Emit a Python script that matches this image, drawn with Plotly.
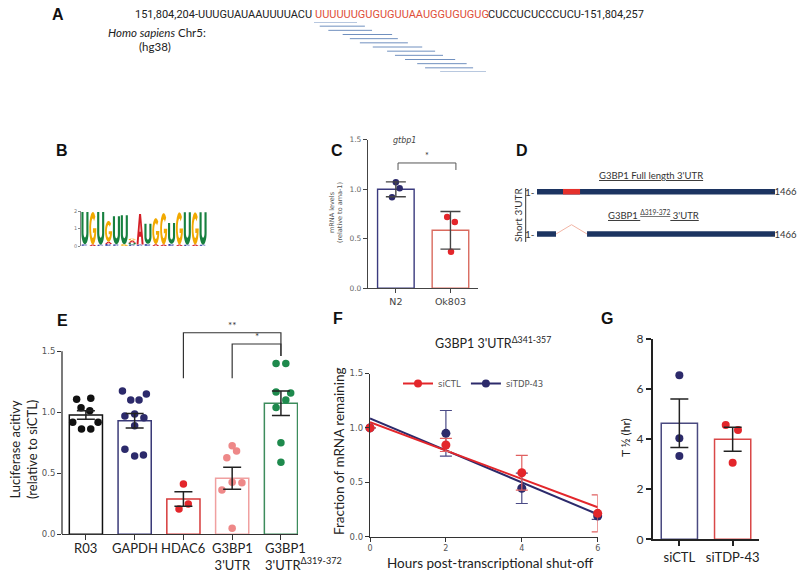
import numpy as np
import plotly.graph_objects as go

W, H = 800, 579


def px(x):
    return x / W


def py(y):
    return 1 - y / H


# ---------------- A: sequence + reads ----------------
seq_left = "151,804,204-UUUGUAUAAUUUUACU"
seq_motif = "UUUUUUGUGUGUUAAUGGUGUGUG"
seq_right = "CUCCUCUCCCUCU-151,804,257"
# read alignments under the motif (nt from motif start)
read_start = [-0.1, 0.8, 2.0, 4.0, 5.0, 6.4, 8.2, 10.2, 11.3, 12.7, 14.4, 15.5, 17.6]
read_end = [6.0, 7.1, 8.1, 10.9, 11.7, 13.1, 15.1, 16.9, 18.0, 19.7, 21.3, 22.2, 24.5]

# ---------------- B: motif logo (bits, bottom -> top) ----------------
logo_stacks = [
    [("C", 0.10), ("U", 1.85)],
    [("A", 0.08), ("G", 1.87)],
    [("C", 0.08), ("U", 1.87)],
    [("C", 0.12), ("A", 0.12), ("G", 1.2)],
    [("C", 0.10), ("U", 1.6)],
    [("G", 0.10), ("U", 1.65)],
    [("C", 0.08), ("U", 0.10), ("A", 0.14), ("G", 0.10)],
    [("C", 0.08), ("A", 1.75)],
    [("C", 0.12), ("U", 1.15)],
    [("A", 0.10), ("G", 1.5)],
    [("A", 0.08), ("G", 1.8)],
    [("C", 0.12), ("U", 1.2)],
    [("A", 0.08), ("G", 1.85)],
    [("C", 0.08), ("U", 1.85)],
    [("A", 0.08), ("G", 1.85)],
    [("C", 0.08), ("U", 1.85)],
]
logo_colors = {"U": "#17803f", "G": "#f2a900", "A": "#d41f26", "C": "#2634a0"}

# ---------------- C: gtbp1 qPCR ----------------
c_groups = ["N2", "Ok803"]
c_mean = [1.0, 0.586]
c_sd = [0.075, 0.19]
c_pts_grp = [0, 0, 0, 1, 1, 1]
c_pts_dx = [0.0, 0.07, -0.07, -0.06, 0.08, 0.01]
c_pts_y = [1.07, 1.01, 0.92, 0.72, 0.67, 0.37]

# ---------------- D: constructs ----------------
d_len = 1466
d_motif = [161, 266]
d_deletion = [118, 309]

# ---------------- E: luciferase ----------------
e_groups = ["R03", "GAPDH", "HDAC6", "G3BP1<br>3'UTR", "G3BP1<br>3'UTR<sup>Δ319-372</sup>"]
e_mean = [0.978, 0.931, 0.289, 0.459, 1.074]
e_sem = [0.035, 0.06, 0.06, 0.09, 0.10]
e_pts = [
    [1.107, 1.115, 1.038, 1.013, 0.918, 0.918, 0.863, 0.863],
    [1.175, 1.150, 1.101, 1.101, 0.986, 0.970, 0.956, 0.890, 0.697, 0.642, 0.650],
    [0.412, 0.207, 0.248],
    [0.726, 0.683, 0.628, 0.363, 0.426, 0.423, 0.049],
    [1.40, 1.40, 1.166, 1.158, 1.101, 1.04, 0.751, 0.590],
]
e_dx = [
    [-0.19, 0.10, -0.10, 0.08, -0.27, 0.25, -0.09, 0.10],
    [-0.25, 0.24, -0.08, 0.09, 0.0, -0.20, 0.19, 0.0, -0.20, 0.0, 0.18],
    [0.0, -0.09, 0.10],
    [0.0, 0.09, -0.11, -0.21, 0.0, 0.20, 0.0],
    [-0.10, 0.10, -0.10, 0.20, 0.10, -0.10, 0.0, 0.0],
]
# (left group, right group, bracket height, label)
e_brackets = [(2, 4, 1.652, "**"), (3, 4, 1.560, "*")]

# ---------------- F: decay ----------------
f_hours = [0, 2, 4, 6]
f_ctl = [1.0, 0.843, 0.588, 0.215]
f_ctl_err = [0.0, 0.06, 0.16, 0.17]
f_tdp = [1.0, 0.95, 0.445, 0.19]
f_tdp_err = [0.0, 0.21, 0.14, 0.03]

# ---------------- G: half life ----------------
g_groups = ["siCTL", "siTDP-43"]
g_mean = [4.63, 3.99]
g_sem = [0.97, 0.48]
g_pts_grp = [0, 0, 0, 1, 1, 1]
g_pts_dx = [0.0, 0.0, 0.0, -0.13, 0.10, 0.0]
g_pts_y = [6.55, 4.03, 3.33, 4.56, 4.36, 3.06]

NAVY = "#2c2a6b"
RED = "#e3262b"
PINK = "#ee8888"
GREEN = "#1e8a4d"
BLACK = "#111111"


def arc(cx, cy, rx, ry, a0, a1, n=18):
    t = np.radians(np.linspace(a0, a1, n))
    return list(zip(cx + rx * np.cos(t), cy + ry * np.sin(t)))


GLYPHS = {
    "U": [[(0, 1)] + arc(0.5, 0.36, 0.5, 0.36, 180, 360) + [(1, 1), (0.7, 1)]
          + arc(0.5, 0.36, 0.2, 0.15, 360, 180) + [(0.3, 1)]],
    "G": [arc(0.5, 0.5, 0.5, 0.5, 45, 360) + [(0.52, 0.5), (0.52, 0.36), (0.74, 0.36)]
          + arc(0.5, 0.5, 0.24, 0.3, 335, 45)],
    "C": [arc(0.5, 0.5, 0.5, 0.5, 40, 320) + arc(0.5, 0.5, 0.22, 0.3, 320, 40)],
    "A": [[(0, 0), (0.36, 1), (0.64, 1), (1, 0), (0.72, 0), (0.64, 0.26), (0.36, 0.26), (0.28, 0)],
          [(0.42, 0.42), (0.58, 0.42), (0.5, 0.72)]],
}


def letter_path(letter, pos, base, h):
    parts = []
    for poly in GLYPHS[letter]:
        pts = ["%.4f,%.4f" % (pos - 0.45 + 0.9 * u, base + h * v) for u, v in poly]
        parts.append("M" + "L".join(pts) + "Z")
    return "".join(parts)


fig = go.Figure()
shapes = []
annotations = []


def ann(text, x, y, size=12, color="#222", family="Lato", xa="center", ya="middle", angle=0, **kw):
    annotations.append(dict(text=text, x=px(x), y=py(y), xref="paper", yref="paper",
                            showarrow=False, xanchor=xa, yanchor=ya, textangle=angle,
                            font=dict(family=family, size=size, color=color), **kw))


# ---- A ----
rx, ry = [], []
for i, (s, e) in enumerate(zip(read_start, read_end)):
    rx += [s, e, None]
    ry += [i, i, None]
fig.add_trace(go.Scatter(x=rx, y=ry, mode="lines", line=dict(color="#7090bf", width=1),
                         xaxis="x5", yaxis="y5", showlegend=False, hoverinfo="skip"))
ann(seq_left, 314, 15, size=11, family="Roboto", xa="right")
ann(seq_motif, 313, 15, size=11, family="Roboto", color="#e0503a", xa="left")
ann(seq_right, 486, 15, size=11, family="Roboto", xa="left")
ann("<i>Homo sapiens</i> Chr5:", 106, 33, size=11.5, xa="left")
ann("(hg38)", 137, 47, size=11.5, xa="left")

# ---- B ----
for pos, stack in enumerate(logo_stacks):
    base = 0.0
    for letter, h in stack:
        shapes.append(dict(type="path", xref="x7", yref="y7", path=letter_path(letter, pos, base, h),
                           fillcolor=logo_colors[letter], line=dict(width=0), layer="above"))
        base += h

# ---- C ----
fig.add_trace(go.Bar(x=[0, 1], y=c_mean, width=0.67, xaxis="x4", yaxis="y4",
                     marker=dict(color="white", line=dict(color=["#3a3a7e", "#d96a5e"], width=1.4)),
                     showlegend=False))
fig.add_trace(go.Scatter(x=[g + d for g, d in zip(c_pts_grp, c_pts_dx)], y=c_pts_y, mode="markers",
                         marker=dict(size=6.5, color=[NAVY if g == 0 else RED for g in c_pts_grp]),
                         xaxis="x4", yaxis="y4", showlegend=False))
fig.add_trace(go.Scatter(x=[0, 1], y=c_mean, mode="markers", marker=dict(size=1, color="rgba(0,0,0,0)"),
                         error_y=dict(type="data", array=c_sd, color="#444", thickness=1.4, width=10),
                         xaxis="x4", yaxis="y4", showlegend=False))
fig.add_trace(go.Scatter(x=[0.04, 0.04, 1.1, 1.1], y=[1.195, 1.266, 1.266, 1.195], mode="lines",
                         line=dict(color="#555", width=1), xaxis="x4", yaxis="y4", showlegend=False))
annotations.append(dict(text="*", x=0.57, y=1.27, xref="x4", yref="y4", showarrow=False, yanchor="bottom",
                        font=dict(size=9, color="#333")))
ann("<i>gtbp1</i>", 404, 140, size=8, color="#444", family="DejaVu Sans")
ann("mRNA levels<br>(relative to ama-1)", 336, 213, size=6.5, color="#555", family="DejaVu Sans", angle=-90)

# ---- D ----
fig.add_trace(go.Scatter(x=[1, d_len, None, 1, d_deletion[0], None, d_deletion[1], d_len],
                         y=[0, 0, None, 1, 1, None, 1, 1], mode="lines",
                         line=dict(color="#1c3461", width=5.5), xaxis="x6", yaxis="y6",
                         showlegend=False, hoverinfo="skip"))
fig.add_trace(go.Scatter(x=d_motif, y=[0, 0], mode="lines", line=dict(color="#e5312c", width=5.5),
                         xaxis="x6", yaxis="y6", showlegend=False, hoverinfo="skip"))
fig.add_trace(go.Scatter(x=[d_deletion[0], sum(d_deletion) / 2, d_deletion[1]], y=[1, 0.78, 1], mode="lines",
                         line=dict(color="#f2b5a5", width=1), xaxis="x6", yaxis="y6",
                         showlegend=False, hoverinfo="skip"))
ann("<span style='text-decoration:underline'>G3BP1 Full length 3'UTR</span>", 651, 175, size=9.5, color="#333")
ann("<span style='text-decoration:underline'>G3BP1 <sup>Δ319-372</sup> 3'UTR</span>", 653, 214, size=9.5,
    color="#333")
for yy in (191.7, 234):
    ann("1-", 537, yy, size=10, color="#333", xa="right")
    ann("-1466", 799, yy, size=9.5, color="#333", xa="right")
ann("Short 3'UTR", 518, 215, size=10, color="#333", angle=-90)
shapes.append(dict(type="line", xref="paper", yref="paper", x0=px(525.7), x1=px(525.7), y0=py(188), y1=py(242),
                   line=dict(color="#333", width=1)))

# ---- E ----
e_edge = [BLACK, "#3a3a78", "#d63a3a", "#f0a0a0", "#3c8c5c"]
e_dot = [BLACK, NAVY, RED, PINK, GREEN]
fig.add_trace(go.Bar(x=list(range(5)), y=e_mean, width=0.68,
                     marker=dict(color="white", line=dict(color=e_edge, width=1.5)),
                     xaxis="x", yaxis="y", showlegend=False))
for i, (vals, dx) in enumerate(zip(e_pts, e_dx)):
    fig.add_trace(go.Scatter(x=[i + d for d in dx], y=vals, mode="markers",
                             marker=dict(size=7.5, color=e_dot[i]), xaxis="x", yaxis="y", showlegend=False))
fig.add_trace(go.Scatter(x=list(range(5)), y=e_mean, mode="markers", marker=dict(size=1, color="rgba(0,0,0,0)"),
                         error_y=dict(type="data", array=e_sem, color="#222", thickness=1.5, width=9),
                         xaxis="x", yaxis="y", showlegend=False))
for xl, xr, yb, lab in e_brackets:
    fig.add_trace(go.Scatter(x=[xl, xl, xr, xr], y=[1.279, yb, yb, 1.461], mode="lines",
                             line=dict(color="#333", width=1.2), xaxis="x", yaxis="y", showlegend=False))
    annotations.append(dict(text=lab, x=(xl + xr) / 2, y=yb, xref="x", yref="y", showarrow=False,
                            yanchor="bottom", font=dict(size=10, color="#333")))
# category labels under the bars (last one is left aligned as in the figure)
for i, lab in enumerate(e_groups):
    last = i == len(e_groups) - 1
    annotations.append(dict(text=lab, x=i - 0.37 if last else i, y=py(538), xref="x", yref="paper",
                            showarrow=False, xanchor="left" if last else "center", yanchor="top",
                            align="left" if last else "center",
                            font=dict(family="Lato", size=13, color="#222")))
shapes.append(dict(type="line", xref="paper", yref="y", x0=px(62), x1=px(62), y0=0, y1=1.5,
                   line=dict(color="#333", width=1.3)))
ann("Luciferase acitivy<br>(relative to siCTL)", 23, 450, size=13, angle=-90)

# ---- F ----
fit_ctl = np.polyfit(f_hours, f_ctl, 1)
fit_tdp = np.polyfit(f_hours, f_tdp, 1)
xs = np.array([f_hours[0], f_hours[-1]])
fig.add_trace(go.Scatter(x=xs, y=np.polyval(fit_tdp, xs), mode="lines", line=dict(color=NAVY, width=2),
                         xaxis="x2", yaxis="y2", showlegend=False))
fig.add_trace(go.Scatter(x=xs, y=np.polyval(fit_ctl, xs), mode="lines", line=dict(color=RED, width=2),
                         xaxis="x2", yaxis="y2", showlegend=False))
fig.add_trace(go.Scatter(x=f_hours, y=f_tdp, mode="markers", marker=dict(size=9, color=NAVY), cliponaxis=False,
                         error_y=dict(type="data", array=f_tdp_err, color="#4a4a86", thickness=1.2, width=6),
                         xaxis="x2", yaxis="y2", showlegend=False))
fig.add_trace(go.Scatter(x=f_hours, y=f_ctl, mode="markers", marker=dict(size=9, color=RED), cliponaxis=False,
                         error_y=dict(type="data", array=f_ctl_err, color="#e06060", thickness=1.2, width=6),
                         xaxis="x2", yaxis="y2", showlegend=False))
fig.add_trace(go.Scatter(x=[None], y=[None], mode="lines+markers", name="siCTL", legendrank=1,
                         line=dict(color=RED, width=2), marker=dict(size=8, color=RED), xaxis="x2", yaxis="y2"))
fig.add_trace(go.Scatter(x=[None], y=[None], mode="lines+markers", name="siTDP-43", legendrank=2,
                         line=dict(color=NAVY, width=2), marker=dict(size=8, color=NAVY), xaxis="x2", yaxis="y2"))
ann("G3BP1 3'UTR<sup>Δ341-357</sup>", 493, 342, size=12.5)
ann("Fraction of mRNA remaining", 339, 452, size=13.5, angle=-90)
ann("Hours post-transcriptional shut-off", 490, 563, size=13.5)

# ---- G ----
fig.add_trace(go.Bar(x=[0, 1], y=g_mean, width=0.68, xaxis="x3", yaxis="y3",
                     marker=dict(color="white", line=dict(color=["#4a4a80", "#d94848"], width=1.5)),
                     showlegend=False))
fig.add_trace(go.Scatter(x=[g + d for g, d in zip(g_pts_grp, g_pts_dx)], y=g_pts_y, mode="markers",
                         marker=dict(size=8, color=[NAVY if g == 0 else RED for g in g_pts_grp]),
                         xaxis="x3", yaxis="y3", showlegend=False))
fig.add_trace(go.Scatter(x=[0, 1], y=g_mean, mode="markers", marker=dict(size=1, color="rgba(0,0,0,0)"),
                         error_y=dict(type="data", array=g_sem, color="#222", thickness=1.5, width=9),
                         xaxis="x3", yaxis="y3", showlegend=False))
ann("T ½ (hr)", 625, 438, size=12, angle=-90)

# ---- panel letters ----
for lab, x, y in [("A", 58, 15), ("B", 62, 150), ("C", 337, 150), ("D", 522, 150),
                  ("E", 62, 320), ("F", 338, 318), ("G", 607, 318)]:
    ann("<b>%s</b>" % lab, x, y, size=16, color="#111", family="Liberation Sans")

base_ax = dict(showgrid=False, zeroline=False, fixedrange=True)
hidden = dict(visible=False, showgrid=False, zeroline=False, fixedrange=True)
small = dict(family="DejaVu Sans", size=8.5, color="#555")

fig.update_layout(
    width=W, height=579, margin=dict(l=0, r=0, t=0, b=0),
    template="none", paper_bgcolor="white", plot_bgcolor="rgba(0,0,0,0)",
    font=dict(family="Lato", color="#222"),
    showlegend=True,
    legend=dict(x=px(398), y=py(369), xanchor="left", yanchor="top", orientation="h",
                bgcolor="rgba(0,0,0,0)", font=dict(family="DejaVu Sans", size=8.5, color="#555"),
                itemwidth=30),
    # E
    xaxis=dict(base_ax, domain=[px(62), px(298)], range=[-0.49, 4.35], anchor="y", showline=True,
               linecolor="#333", linewidth=1.3, ticks="outside", ticklen=5, tickcolor="#333", tickwidth=1.3,
               tickvals=list(range(5)), showticklabels=False),
    yaxis=dict(base_ax, domain=[py(534.3), py(534.3 - 1.75 * 122)], range=[0, 1.75], anchor="x",
               showline=False, ticks="outside", ticklen=4, tickcolor="#333", tickwidth=1.3,
               tickvals=[0, 0.5, 1, 1.5], ticktext=["0.0", "0.5", "1.0", "1.5"], tickfont=small),
    # F
    xaxis2=dict(base_ax, domain=[px(370), px(597.7)], range=[0, 6], anchor="y2", showline=True,
                linecolor="#333", linewidth=1.3, ticks="outside", ticklen=4, tickcolor="#333",
                tickvals=f_hours, tickfont=dict(family="DejaVu Sans", size=8, color="#555")),
    yaxis2=dict(base_ax, domain=[py(536.7), py(536.7 - 1.5 * 108.8)], range=[0, 1.5], anchor="x2",
                showline=True, linecolor="#333", linewidth=1.3, ticks="outside", ticklen=4, tickcolor="#333",
                tickvals=[0, 0.5, 1, 1.5], ticktext=["0.0", "0.5", "1.0", "1.5"], tickfont=small),
    # G
    xaxis3=dict(base_ax, domain=[px(652.7), px(759.3)], range=[-0.5, 1.5], anchor="y3", showline=True,
                linecolor="#222", linewidth=1.5, ticks="outside", ticklen=5, tickcolor="#222", tickwidth=1.5,
                tickangle=0, tickvals=[0, 1], ticktext=g_groups,
                tickfont=dict(family="Lato", size=13, color="#222")),
    yaxis3=dict(base_ax, domain=[py(539.3), py(539.3 - 8 * 25.05)], range=[0, 8], anchor="x3",
                showline=True, linecolor="#222", linewidth=1.5, ticks="outside", ticklen=5, tickcolor="#222",
                tickwidth=1.5, tickvals=[0, 2, 4, 6, 8], tickfont=dict(family="Lato", size=12, color="#333")),
    # C
    xaxis4=dict(base_ax, domain=[px(368), px(477.75)], range=[-0.51, 1.5], anchor="y4", showline=True,
                linecolor="#444", linewidth=1.2, ticks="outside", ticklen=4, tickcolor="#444", tickangle=0,
                tickvals=[0, 1], ticktext=c_groups, tickfont=dict(family="DejaVu Sans", size=9.5, color="#444")),
    yaxis4=dict(base_ax, domain=[py(288.3), py(288.3 - 1.5 * 99)], range=[0, 1.5], anchor="x4",
                showline=True, linecolor="#444", linewidth=1.2, ticks="outside", ticklen=4, tickcolor="#444",
                tickvals=[0, 0.5, 1, 1.5], ticktext=["0.0", "0.5", "1.0", "1.5"],
                tickfont=dict(family="DejaVu Sans", size=7.5, color="#666")),
    # A reads
    xaxis5=dict(hidden, domain=[px(314), px(486)], range=[0, 24], anchor="y5"),
    yaxis5=dict(hidden, domain=[py(72), py(22)], range=[12, 0], anchor="x5"),
    # D constructs
    xaxis6=dict(hidden, domain=[px(537), px(775)], range=[1, d_len], anchor="y6"),
    yaxis6=dict(hidden, domain=[py(250), py(170)], range=[1.378, -0.513], anchor="x6"),
    # B logo
    xaxis7=dict(hidden, domain=[px(81), px(207)], range=[-0.5, 15.5], anchor="y7"),
    yaxis7=dict(base_ax, domain=[py(246), py(211)], range=[0, 2], anchor="x7", showline=True,
                linecolor="#888", linewidth=0.6, ticks="outside", ticklen=2, tickcolor="#888",
                tickvals=[0, 1, 2], tickfont=dict(family="DejaVu Sans", size=5, color="#777")),
    shapes=shapes,
    annotations=annotations,
)

# page body has a default 8px margin; drop it so the figure sits at the window origin
fig.write_html("out.html", config={"displayModeBar": False},
               post_script="document.body.style.margin='0';document.body.style.overflow='hidden';")
